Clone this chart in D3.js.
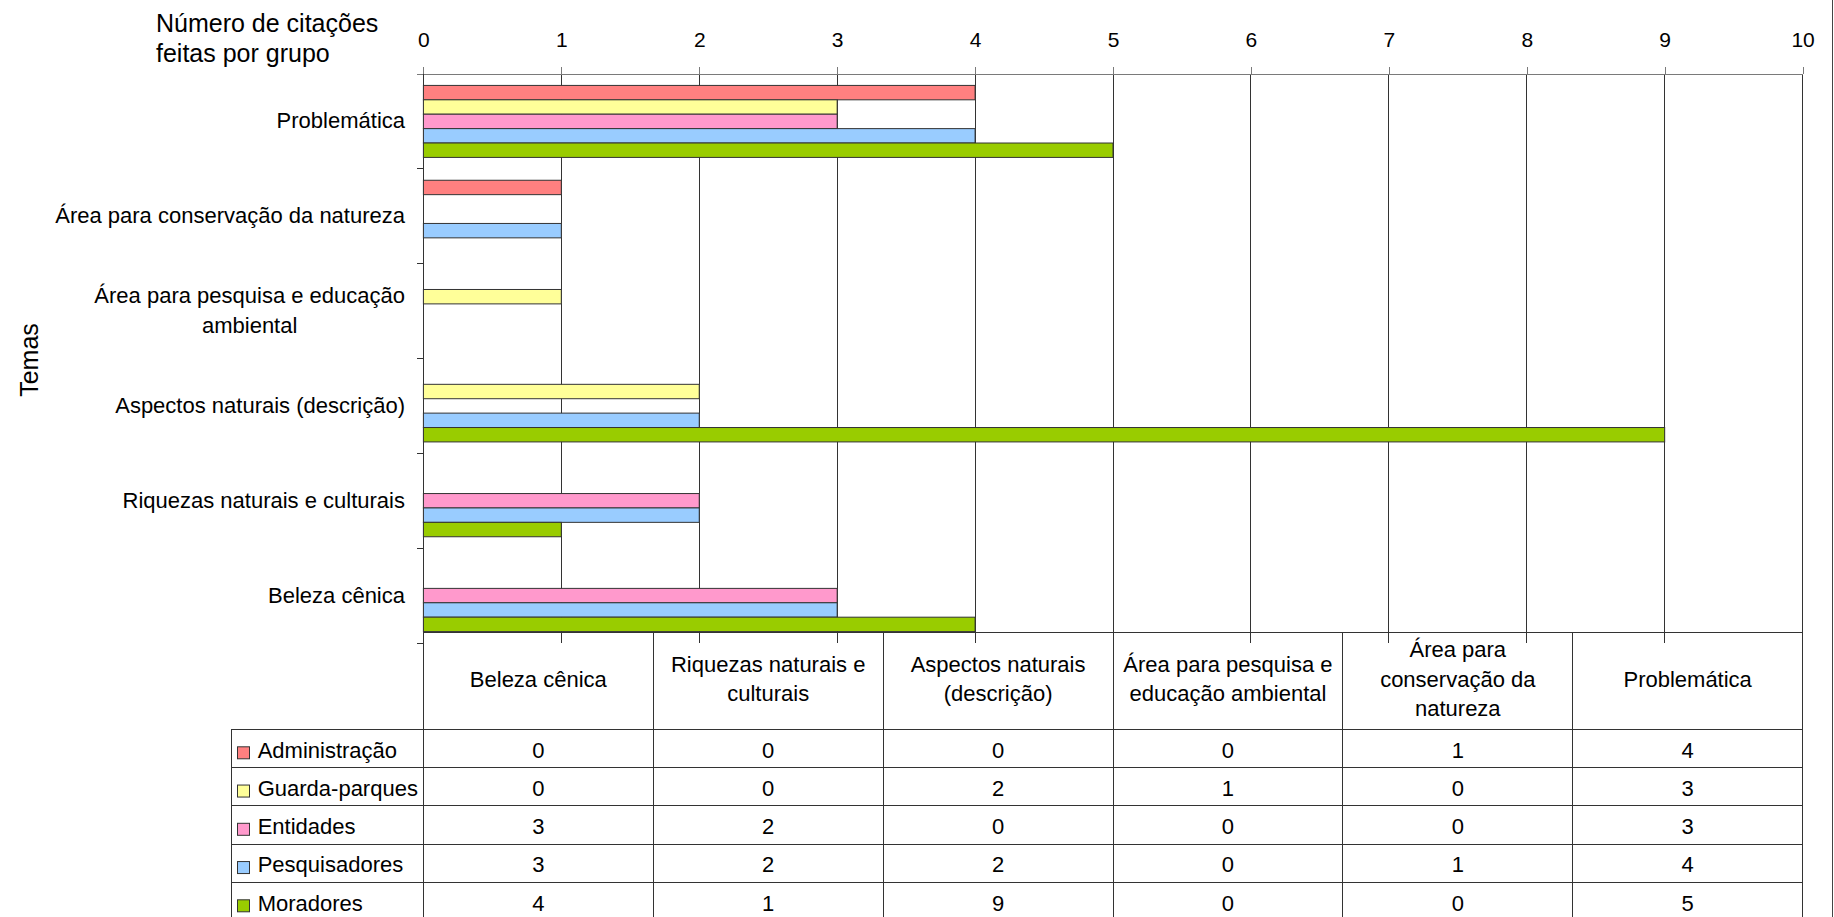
<!DOCTYPE html>
<html>
<head>
<meta charset="utf-8">
<script src="https://cdn.jsdelivr.net/npm/d3@7"></script>
<style>
  html, body { margin: 0; padding: 0; background: #fff; }
  svg { display: block; }
  text { font-family: "Liberation Sans", Arial, sans-serif; fill: #000; }
</style>
</head>
<body>
<svg id="chart" width="1834" height="917"></svg>
<script>
// ---------------- DATA ----------------
const categories = [
  "Beleza cênica",
  "Riquezas naturais e culturais",
  "Aspectos naturais (descrição)",
  "Área para pesquisa e educação ambiental",
  "Área para conservação da natureza",
  "Problemática"
];
// label lines beside the bars (plot shows categories top -> bottom reversed)
const plotLabelLines = [
  ["Beleza cênica"],
  ["Riquezas naturais e culturais"],
  ["Aspectos naturais (descrição)"],
  ["Área para pesquisa e educação", "ambiental"],
  ["Área para conservação da natureza"],
  ["Problemática"]
];
// label lines in the data table header
const tableHeaderLines = [
  ["Beleza cênica"],
  ["Riquezas naturais e", "culturais"],
  ["Aspectos naturais", "(descrição)"],
  ["Área para pesquisa e", "educação ambiental"],
  ["Área para", "conservação da", "natureza"],
  ["Problemática"]
];
const seriesNames = ["Administração", "Guarda-parques", "Entidades", "Pesquisadores", "Moradores"];
const seriesColors = ["#ff8080", "#ffff99", "#ff99cc", "#99ccff", "#99cc00"];
const administracao = [0, 0, 0, 0, 1, 4];
const guardaParques = [0, 0, 2, 1, 0, 3];
const entidades     = [3, 2, 0, 0, 0, 3];
const pesquisadores = [3, 2, 2, 0, 1, 4];
const moradores     = [4, 1, 9, 0, 0, 5];
const xTickValues = [0, 1, 2, 3, 4, 5, 6, 7, 8, 9, 10];
const titleLines = ["Número de citações", "feitas por grupo"];
const yAxisTitle = "Temas";

const seriesValues = [administracao, guardaParques, entidades, pesquisadores, moradores];

// ---------------- LAYOUT ----------------
const svg = d3.select("#chart");
const plotTop = 74, plotBottom = 643;
const x = d3.scaleLinear().domain([0, 10]).range([423.4, 1802.6]);
const plotOrder = categories.slice().reverse();
const y = d3.scaleBand().domain(plotOrder).range([plotTop, plotBottom]).paddingInner(0).paddingOuter(0);
const barH = 14.4;
const groupOffset = (y.bandwidth() - barH * seriesNames.length) / 2;
const ySeries = d3.scaleBand().domain(seriesNames)
  .range([groupOffset, groupOffset + barH * seriesNames.length]).padding(0);

const gridColor = "#333";
const axisColor = "#7a7a7a";
const fs = "22px";

// title
svg.append("g").selectAll("text").data(titleLines).join("text")
  .attr("x", 156).attr("y", (d, i) => 31.7 + i * 30)
  .style("font-size", "25px").text(d => d);

// y-axis title
svg.append("text")
  .attr("transform", "translate(38,360) rotate(-90)")
  .attr("text-anchor", "middle")
  .style("font-size", "25px").text(yAxisTitle);

// vertical gridlines
svg.append("g").selectAll("line").data(xTickValues.filter(v => v > 0)).join("line")
  .attr("x1", d => x(d)).attr("x2", d => x(d))
  .attr("y1", plotTop).attr("y2", plotBottom)
  .attr("stroke", gridColor).attr("stroke-width", 1).attr("shape-rendering", "crispEdges");

// top axis
const xAxis = d3.axisTop(x).tickValues(xTickValues).tickFormat(d3.format("d"))
  .tickSize(7).tickSizeOuter(0).tickPadding(20);
const gx = svg.append("g").attr("transform", `translate(0,${plotTop})`).call(xAxis);
gx.select(".domain").remove();
gx.selectAll(".tick line").attr("stroke", axisColor).attr("shape-rendering", "crispEdges");
gx.selectAll(".tick text").style("font-size", "21px").attr("font-family", null).style("fill", "#000");
svg.append("line").attr("x1", x(0) - 6).attr("x2", x(10)).attr("y1", plotTop).attr("y2", plotTop)
  .attr("stroke", axisColor).attr("shape-rendering", "crispEdges");

// left axis with boundary ticks
const boundaries = plotOrder.map(c => y(c)).concat([y.range()[1]]);
svg.append("line").attr("x1", x(0)).attr("x2", x(0)).attr("y1", plotTop).attr("y2", plotBottom)
  .attr("stroke", gridColor).attr("shape-rendering", "crispEdges");
svg.append("g").selectAll("line").data(boundaries.slice(1)).join("line")
  .attr("x1", x(0) - 6).attr("x2", x(0)).attr("y1", d => d).attr("y2", d => d)
  .attr("stroke", gridColor).attr("shape-rendering", "crispEdges");

// bars
const barData = [];
categories.forEach((c, ci) => {
  seriesNames.forEach((s, si) => {
    barData.push({ cat: c, series: s, value: seriesValues[si][ci], color: seriesColors[si] });
  });
});
svg.append("g").selectAll("rect").data(barData.filter(d => d.value > 0)).join("rect")
  .attr("x", x(0))
  .attr("y", d => y(d.cat) + ySeries(d.series))
  .attr("width", d => x(d.value) - x(0))
  .attr("height", ySeries.bandwidth())
  .attr("fill", d => d.color)
  .attr("stroke", "#333").attr("stroke-width", 1);

// plot category labels
const labelRight = 405;
const lg = svg.append("g");
categories.forEach((c, ci) => {
  const lines = plotLabelLines[ci];
  const cy = y(c) + y.bandwidth() / 2;
  const lineH = 30;
  const g = lg.append("g");
  const texts = g.selectAll("text").data(lines).join("text")
    .attr("y", (d, i) => cy + 7 + (i - (lines.length - 1) / 2) * lineH)
    .attr("text-anchor", "middle")
    .style("font-size", fs).text(d => d);
  let maxW = 0;
  texts.each(function () { maxW = Math.max(maxW, this.getComputedTextLength()); });
  texts.attr("x", labelRight - maxW / 2);
});

// ---------------- TABLE ----------------
const headerTop = 632, headerBottom = 729.3, rowH = 38.25;
const legendLeft = 231;
const col = d3.scaleBand().domain(categories).range([x(0), x(10)]).padding(0);
const rowY = d3.scaleBand().domain(seriesNames)
  .range([headerBottom, headerBottom + rowH * seriesNames.length]).padding(0);
const tableBottom = 917;
const tg = svg.append("g");

// header text
categories.forEach((c, ci) => {
  const lines = tableHeaderLines[ci];
  const cx = col(c) + col.bandwidth() / 2;
  const cy = (headerTop + headerBottom) / 2;
  tg.append("g").selectAll("text").data(lines).join("text")
    .attr("x", cx)
    .attr("y", (d, i) => cy + 6 + (i - (lines.length - 1) / 2) * 29.2)
    .attr("text-anchor", "middle")
    .style("font-size", fs).text(d => d);
});

// horizontal lines
tg.append("line").attr("x1", x(0)).attr("x2", x(10)).attr("y1", headerTop).attr("y2", headerTop)
  .attr("stroke", gridColor).attr("shape-rendering", "crispEdges");
tg.selectAll("line.row").data(seriesNames).join("line").attr("class", "row")
  .attr("x1", legendLeft).attr("x2", x(10))
  .attr("y1", d => rowY(d)).attr("y2", d => rowY(d))
  .attr("stroke", gridColor).attr("shape-rendering", "crispEdges");
// vertical lines
const colEdges = categories.map(c => col(c)).concat([col.range()[1]]);
tg.selectAll("line.col").data(colEdges).join("line").attr("class", "col")
  .attr("x1", d => d).attr("x2", d => d).attr("y1", headerTop).attr("y2", tableBottom)
  .attr("stroke", gridColor).attr("shape-rendering", "crispEdges");
tg.append("line").attr("x1", legendLeft).attr("x2", legendLeft).attr("y1", headerBottom).attr("y2", tableBottom)
  .attr("stroke", gridColor).attr("shape-rendering", "crispEdges");

// legend cells
seriesNames.forEach((s, si) => {
  const ry = rowY(s);
  tg.append("rect").attr("x", 237.5).attr("y", ry + 17.5).attr("width", 12).attr("height", 12)
    .attr("fill", seriesColors[si]).attr("stroke", "#333").attr("stroke-width", 1);
  tg.append("text").attr("x", 257.7).attr("y", ry + 28.4)
    .style("font-size", fs).text(s);
  categories.forEach((c, ci) => {
    tg.append("text").attr("x", col(c) + col.bandwidth() / 2).attr("y", ry + 28.4)
      .attr("text-anchor", "middle").style("font-size", fs)
      .text(seriesValues[si][ci]);
  });
});

// right frame edge
svg.append("line").attr("x1", 1832).attr("x2", 1832).attr("y1", 0).attr("y2", 917)
  .attr("stroke", "#444").attr("shape-rendering", "crispEdges");
</script>
</body>
</html>
